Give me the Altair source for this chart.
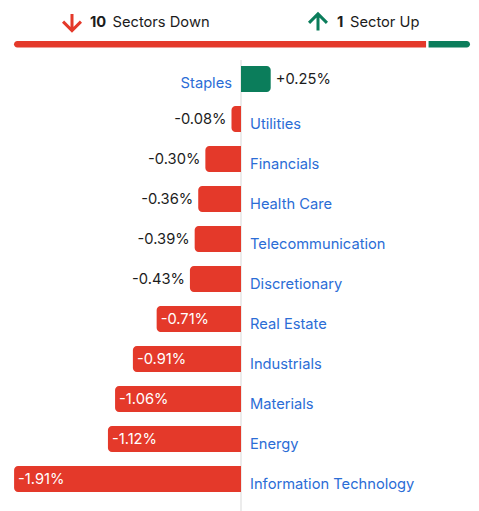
import altair as alt
import pandas as pd

# Sector performance for the session (percent change)
sectors = ["Staples", "Utilities", "Financials", "Health Care", "Telecommunication",
           "Discretionary", "Real Estate", "Industrials", "Materials", "Energy",
           "Information Technology"]
changes = [0.25, -0.08, -0.30, -0.36, -0.39, -0.43, -0.71, -0.91, -1.06, -1.12, -1.91]

RED = "#E4392A"
GREEN = "#0B7D5B"
BLUE = "#2B6DD6"
INK = "#1C1C1C"
FONT = "Inter"
FS = 14.7

df = pd.DataFrame({"sector": sectors, "value": changes})
df["label"] = [("+" if v > 0 else "-") + f"{abs(v):.2f}%" for v in changes]
df["inside"] = df["value"].abs() >= 0.7

n_down = int((df["value"] < 0).sum())
n_up = int((df["value"] > 0).sum())
total = n_down + n_up

# pixel mapping: zero line at x=241, ~118.8 px per 1%
x_scale = alt.Scale(domain=[-241 / 118.8, 238 / 118.8], range=[0, 479], nice=False, zero=False)
y_scale = alt.Scale(domain=sectors, range=[59, 499], paddingInner=0.35, paddingOuter=0.175)

base = alt.Chart(df)
X = alt.X("value:Q", scale=x_scale, axis=None)
Y = alt.Y("sector:N", scale=y_scale, axis=None, sort=sectors)

zero_line = alt.Chart(pd.DataFrame({"z": [0]})).mark_rule(color="#D9D9D9", strokeWidth=1).encode(
    x=alt.X("z:Q", scale=x_scale, axis=None), y=alt.value(60), y2=alt.value(511)
)

neg_bars = base.transform_filter("datum.value < 0").mark_bar(
    color=RED, cornerRadiusTopLeft=4, cornerRadiusBottomLeft=4
).encode(x=X, x2=alt.datum(0), y=Y)
pos_bars = base.transform_filter("datum.value > 0").mark_bar(
    color=GREEN, cornerRadiusTopRight=4, cornerRadiusBottomRight=4
).encode(x=X, x2=alt.datum(0), y=Y)

txt = dict(font=FONT, fontSize=FS, baseline="middle")
val_out_neg = base.transform_filter("datum.value < 0 && !datum.inside").mark_text(
    align="right", dx=-5, dy=0.5, color=INK, **txt).encode(x=X, y=Y, text="label:N")
val_in_neg = base.transform_filter("datum.value < 0 && datum.inside").mark_text(
    align="left", dx=4, dy=0.5, color="white", **txt).encode(x=X, y=Y, text="label:N")
val_pos = base.transform_filter("datum.value > 0").mark_text(
    align="left", dx=5, dy=0.5, color=INK, **txt).encode(x=X, y=Y, text="label:N")

cat_neg = base.transform_filter("datum.value < 0").mark_text(
    align="left", dx=9, dy=5.5, color=BLUE, **txt).encode(
    x=alt.X("z:Q", scale=x_scale, axis=None), y=Y, text="sector:N").transform_calculate(z="0")
cat_pos = base.transform_filter("datum.value > 0").mark_text(
    align="right", dx=-9, dy=5, color=BLUE, **txt).encode(
    x=alt.X("z:Q", scale=x_scale, axis=None), y=Y, text="sector:N").transform_calculate(z="0")

main = alt.layer(zero_line, neg_bars, pos_bars, val_out_neg, val_in_neg, val_pos, cat_neg, cat_pos)

# Header: breadth summary with proportional down/up bar
hdr = pd.DataFrame({
    "side": ["down", "up"],
    "count": [n_down, n_up],
    "start": [0, n_down],
    "end": [n_down, total],
    "word": ["Sectors Down" if n_down != 1 else "Sector Down",
             "Sectors Up" if n_up != 1 else "Sector Up"],
})
hx = alt.Scale(domain=[0, total], range=[14, 470], nice=False, zero=False)
hbase = alt.Chart(hdr)

down_bar = hbase.transform_filter("datum.side == 'down'").mark_bar(
    color=RED, cornerRadiusTopLeft=3.3, cornerRadiusBottomLeft=3.3, x2Offset=-2.5
).encode(x=alt.X("start:Q", scale=hx, axis=None), x2=alt.X2("end:Q"),
         y=alt.value(41), y2=alt.value(47.5))
up_bar = hbase.transform_filter("datum.side == 'up'").mark_bar(
    color=GREEN, cornerRadiusTopRight=3.3, cornerRadiusBottomRight=3.3
).encode(x=alt.X("start:Q", scale=hx, axis=None), x2=alt.X2("end:Q"),
         y=alt.value(41), y2=alt.value(47.5))

arrow_down = "M0,-0.95L0,0.9M-1.0,-0.1L0,0.9L1.0,-0.1"
arrow_up = "M0,0.95L0,-0.9M-1.0,0.1L0,-0.9L1.0,0.1"

down_icon = hbase.transform_filter("datum.side == 'down'").mark_point(
    shape=arrow_down, filled=False, stroke=RED, strokeWidth=3, size=320, opacity=1
).encode(x=alt.value(72), y=alt.value(22.5))
up_icon = hbase.transform_filter("datum.side == 'up'").mark_point(
    shape=arrow_up, filled=False, stroke=GREEN, strokeWidth=3, size=320, opacity=1
).encode(x=alt.value(318), y=alt.value(22))

htxt = dict(font=FONT, fontSize=FS, baseline="alphabetic", align="left", color=INK)
down_num = hbase.transform_filter("datum.side == 'down'").mark_text(fontWeight="bold", **htxt).encode(
    x=alt.value(90), y=alt.value(26.5), text="count:N")
down_word = hbase.transform_filter("datum.side == 'down'").mark_text(**htxt).encode(
    x=alt.value(112.5), y=alt.value(26.5), text="word:N")
up_num = hbase.transform_filter("datum.side == 'up'").mark_text(fontWeight="bold", **htxt).encode(
    x=alt.value(337), y=alt.value(26.5), text="count:N")
up_word = hbase.transform_filter("datum.side == 'up'").mark_text(**htxt).encode(
    x=alt.value(350), y=alt.value(26.5), text="word:N")

header = alt.layer(down_bar, up_bar, down_icon, up_icon, down_num, down_word, up_num, up_word)

chart = alt.layer(header, main).resolve_scale(x="independent").properties(
    width=479, height=511, padding=0, autosize=alt.AutoSizeParams(type="none"),
    background="white"
).configure_view(stroke=None)

chart.save("out.html", embed_options={"renderer": "svg", "actions": False})
